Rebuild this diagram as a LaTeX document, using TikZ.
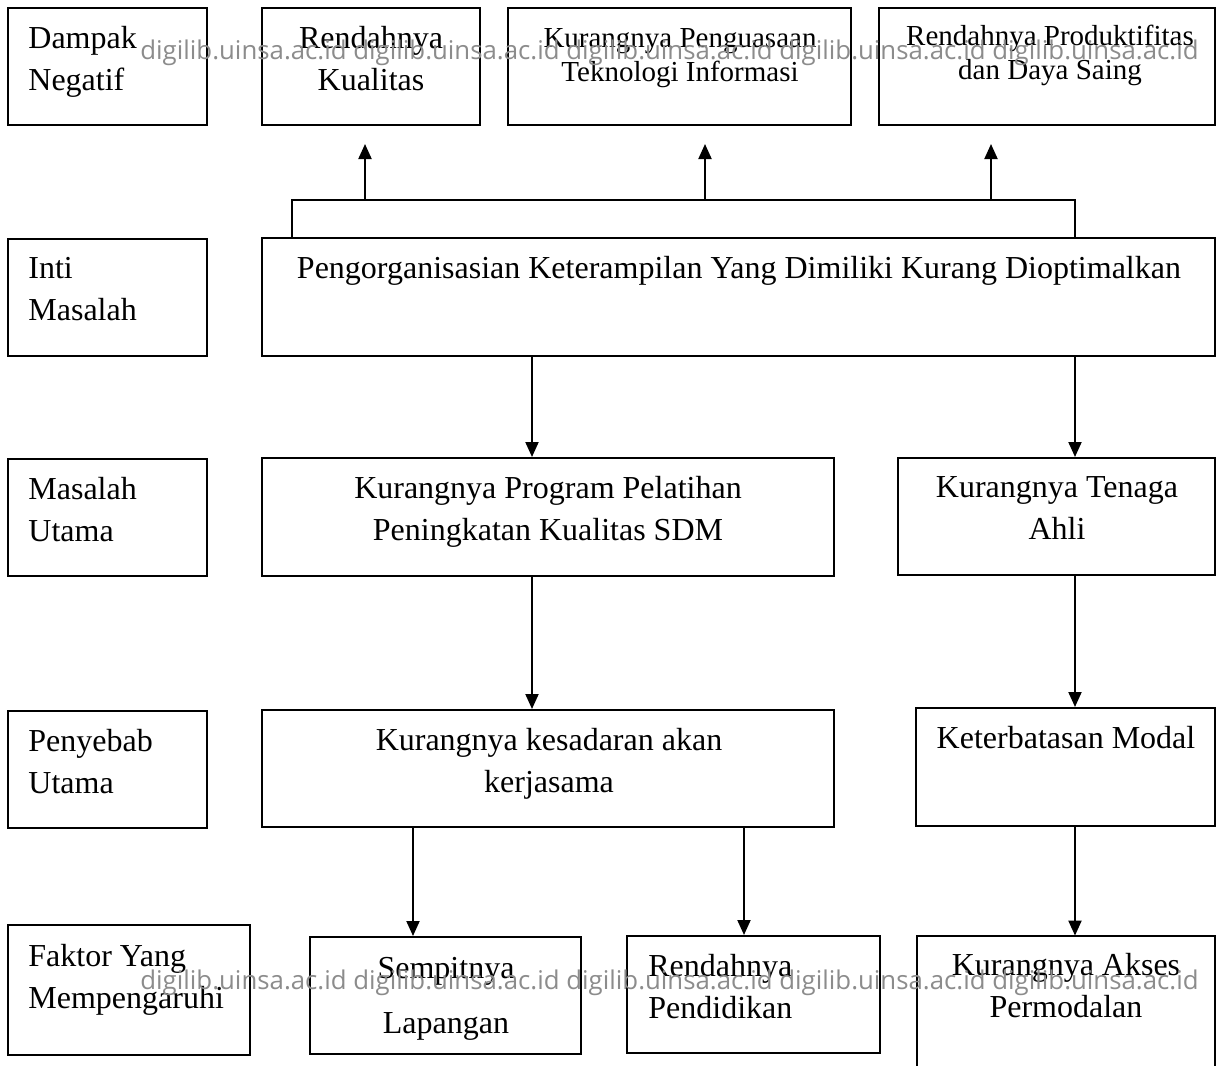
\documentclass[tikz,border=0pt]{standalone}
\usepackage{fontspec}
\setmainfont{Liberation Serif}
\newfontfamily\wmfont{Open Sans}
\usetikzlibrary{arrows.meta,fit}
\begin{document}
\begin{tikzpicture}[x=0.5pt,y=-0.5pt,
  box/.style={draw, line width=1pt, inner sep=0pt},
  lbl/.style={inner sep=0pt, font=\fontsize{16}{21}\selectfont},
  small/.style={inner sep=0pt, font=\fontsize{14.5}{17}\selectfont},
  cen/.style={align=center, anchor=base},
  lft/.style={align=left, anchor=base west},
  arr/.style={line width=1pt, -{Triangle[width=6.5pt,length=7.5pt]}},
  ln/.style={line width=1pt},
  wm/.style={inner sep=0pt, anchor=base west, text=black!45, font=\wmfont\fontsize{12.9}{14}\selectfont}
]
\fill[white] (0,0) rectangle (1217,1066);
\useasboundingbox (0,0) rectangle (1217,1066);

% boxes
\node[box, fit={(8,8) (207,125)}] (d1) {};
\node[box, fit={(262,8) (480,125)}] (r1) {};
\node[box, fit={(508,8) (851,125)}] (r2) {};
\node[box, fit={(879,8) (1215,125)}] (r3) {};
\node[box, fit={(8,239) (207,356)}] (d2) {};
\node[box, fit={(262,238) (1215,356)}] (p) {};
\node[box, fit={(8,459) (207,576)}] (d3) {};
\node[box, fit={(262,458) (834,576)}] (m1) {};
\node[box, fit={(898,458) (1215,575)}] (m2) {};
\node[box, fit={(8,711) (207,828)}] (d4) {};
\node[box, fit={(262,710) (834,827)}] (c1) {};
\node[box, fit={(916,708) (1215,826)}] (c2) {};
\node[box, fit={(8,925) (250,1055)}] (d5) {};
\node[box, fit={(310,937) (581,1054)}] (f1) {};
\node[box, fit={(627,936) (880,1053)}] (f2) {};
\node[inner sep=0pt, fit={(917,936) (1215,1066)}] (f3) {};
\draw[ln] (f3.south west) -- (f3.north west) -- (f3.north east) -- (f3.south east);

% texts (anchor = baseline of last line)
\node[lbl, lft] (td1) at (28,90) {Dampak\\Negatif};
\node[lbl, cen] (tr1) at (371,90) {Rendahnya\\Kualitas};
\node[small, cen] (tr2) at (680,81) {Kurangnya Penguasaan\\Teknologi Informasi};
\node[small, cen] (tr3) at (1050,79) {Rendahnya Produktifitas\\dan Daya Saing};
\node[lbl, lft] (td2) at (28,320) {Inti\\Masalah};
\node[lbl, cen] (tp) at (739,278) {Pengorganisasian Keterampilan Yang Dimiliki Kurang Dioptimalkan};
\node[lbl, lft] (td3) at (28,541) {Masalah\\Utama};
\node[lbl, cen] (tm1) at (548,540) {Kurangnya Program Pelatihan\\Peningkatan Kualitas SDM};
\node[lbl, cen] (tm2) at (1057,539) {Kurangnya Tenaga\\Ahli};
\node[lbl, lft] (td4) at (28,793) {Penyebab\\Utama};
\node[lbl, cen] (tc1) at (549,792) {Kurangnya kesadaran akan\\kerjasama};
\node[lbl, cen] (tc2) at (1066,748) {Keterbatasan Modal};
\node[lbl, lft] (td5) at (28,1008) {Faktor Yang\\Mempengaruhi};
\node[lbl, cen] (tf1) at (446,1033) {Sempitnya\\[6.5pt]Lapangan};
\node[lbl, lft] (tf2) at (648,1018) {Rendahnya\\Pendidikan};
\node[lbl, cen] (tf3) at (1066,1017) {Kurangnya Akses\\Permodalan};

% connectors
\coordinate (jl) at (292,200);
\coordinate (jr) at (1075,200);
\coordinate (a1) at (365,200);
\coordinate (a2) at (705,200);
\coordinate (a3) at (991,200);
\draw[ln] (p.north -| jl) -- (jl) -- (jr) -- (p.north -| jr);
\draw[arr, shorten >=9pt] (a1) -- (a1 |- r1.south);
\draw[arr, shorten >=9pt] (a2) -- (a2 |- r2.south);
\draw[arr, shorten >=9pt] (a3) -- (a3 |- r3.south);

\coordinate (x1) at (532,0);
\coordinate (x2) at (1075,0);
\coordinate (x3) at (413,0);
\coordinate (x4) at (744,0);
\draw[arr] (p.south -| x1) -- (m1.north -| x1);
\draw[arr] (p.south -| x2) -- (m2.north -| x2);
\draw[arr] (m1.south -| x1) -- (c1.north -| x1);
\draw[arr] (m2.south -| x2) -- (c2.north -| x2);
\draw[arr] (c1.south -| x3) -- (f1.north -| x3);
\draw[arr] (c1.south -| x4) -- (f2.north -| x4);
\draw[arr] (c2.south -| x2) -- (f3.north -| x2);

% watermark
\node[wm] (w1) at (140,59) {digilib.uinsa.ac.id digilib.uinsa.ac.id digilib.uinsa.ac.id digilib.uinsa.ac.id digilib.uinsa.ac.id};
\node[wm] (w2) at (140,989) {digilib.uinsa.ac.id digilib.uinsa.ac.id digilib.uinsa.ac.id digilib.uinsa.ac.id digilib.uinsa.ac.id};
\end{tikzpicture}
\end{document}
